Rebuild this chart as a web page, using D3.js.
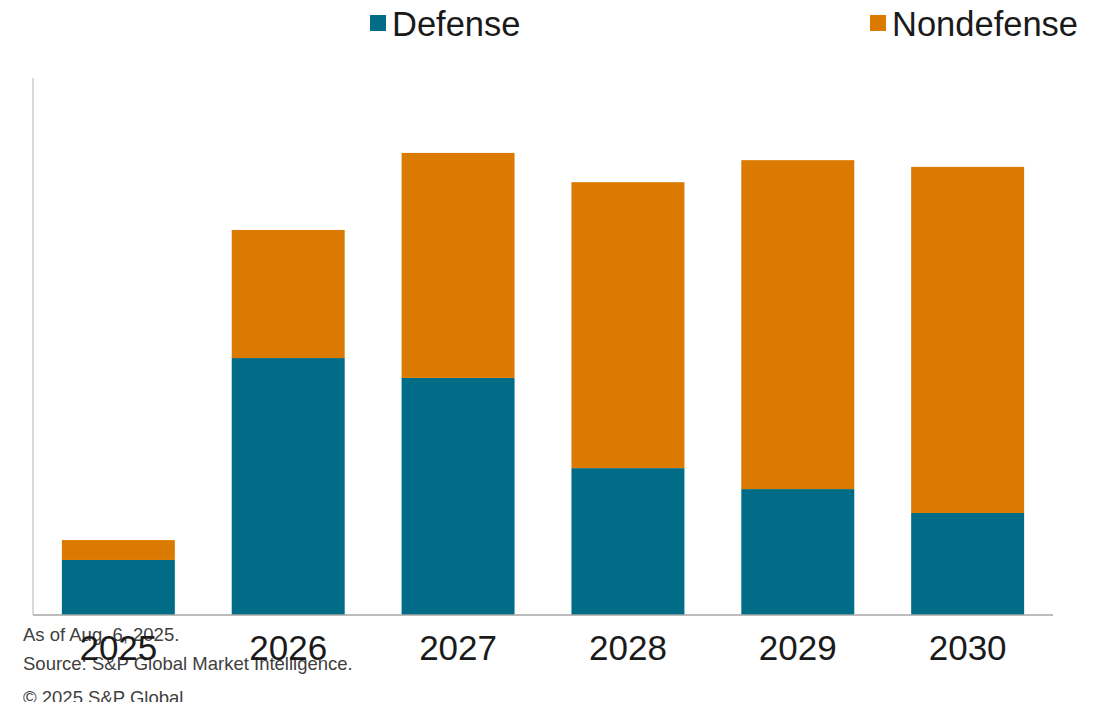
<!DOCTYPE html>
<html>
<head>
<meta charset="utf-8">
<script src="https://cdn.jsdelivr.net/npm/d3@7"></script>
<style>
  html, body { margin: 0; padding: 0; background: #fff; }
  svg { display: block; font-family: "Liberation Sans", Arial, sans-serif; }
</style>
</head>
<body>
<svg id="chart" width="1107" height="702"></svg>
<script>
// Fiscal years shown on the x axis
const years = ["2025", "2026", "2027", "2028", "2029", "2030"];
// Spending by category per year
const defense    = [20.5, 95.7, 88.3, 54.7, 46.9, 38.0];
const nondefense = [7.4, 47.7, 83.8, 106.5, 122.5, 128.9];
const seriesNames = ["Defense", "Nondefense"];
const seriesColors = ["#006c87", "#db7a00"];
const notes = [
  "As of Aug. 6, 2025.",
  "Source: S&P Global Market Intelligence.",
  "\u00a9 2025 S&P Global."
];

const svg = d3.select("#chart");
const plot = { left: 33, right: 1053, top: 78, bottom: 615 };

const rows = years.map((y, i) => ({ year: y, Defense: defense[i], Nondefense: nondefense[i] }));
const stacked = d3.stack().keys(seriesNames)(rows);

const x = d3.scaleBand().domain(years).range([plot.left, plot.right]).paddingInner(0.335).paddingOuter(0.17);
const y = d3.scaleLinear().domain([0, 200]).range([plot.bottom, plot.top]);
const color = d3.scaleOrdinal().domain(seriesNames).range(seriesColors);

// Stacked bars
svg.append("g").selectAll("g")
  .data(stacked)
  .join("g")
  .attr("fill", d => color(d.key))
  .selectAll("rect")
  .data(d => d)
  .join("rect")
  .attr("x", d => x(d.data.year))
  .attr("width", x.bandwidth())
  .attr("y", d => y(d[1]))
  .attr("height", d => y(d[0]) - y(d[1]));

// Axis lines
svg.append("line")
  .attr("x1", plot.left).attr("x2", plot.left)
  .attr("y1", plot.top).attr("y2", plot.bottom)
  .attr("stroke", "#d9d9d9").attr("stroke-width", 2);
svg.append("line")
  .attr("x1", plot.left).attr("x2", plot.right)
  .attr("y1", plot.bottom).attr("y2", plot.bottom)
  .attr("stroke", "#a6a6a6").attr("stroke-width", 1.5);

// Footnotes (drawn beneath the year labels)
svg.append("g").selectAll("text")
  .data(notes)
  .join("text")
  .attr("x", 23)
  .attr("y", (d, i) => [641, 670, 704][i])
  .attr("font-size", 18.5)
  .attr("fill", "#404040")
  .text(d => d);

// Year labels
const xAxis = svg.append("g")
  .attr("transform", `translate(0,${plot.bottom})`)
  .call(d3.axisBottom(x).tickSize(0).tickPadding(0));
xAxis.select(".domain").remove();
xAxis.selectAll("text")
  .attr("dy", null)
  .attr("y", 45)
  .attr("font-family", "'Liberation Sans', Arial, sans-serif")
  .attr("font-size", 35)
  .attr("fill", "#1a1a1a");

// Legend
const legendX = [370, 870];
const legend = svg.append("g").selectAll("g")
  .data(seriesNames)
  .join("g")
  .attr("transform", (d, i) => `translate(${legendX[i]},0)`);
legend.append("rect")
  .attr("x", 0).attr("y", 15)
  .attr("width", 16).attr("height", 16)
  .attr("fill", d => color(d));
legend.append("text")
  .attr("x", 22).attr("y", 36)
  .attr("font-size", 34.5)
  .attr("fill", "#1a1a1a")
  .text(d => d);
</script>
</body>
</html>
